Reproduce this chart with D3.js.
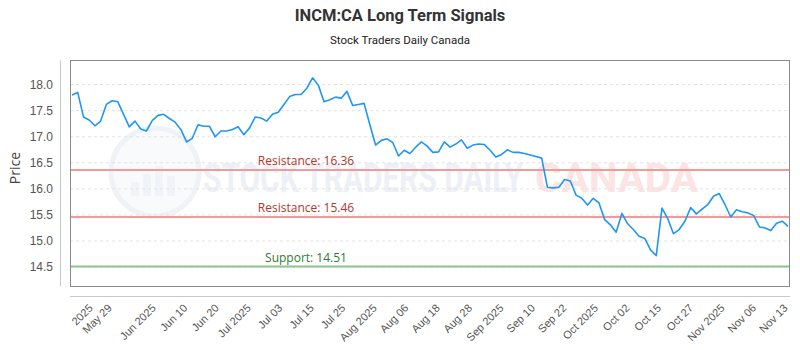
<!DOCTYPE html>
<html>
<head>
<meta charset="utf-8">
<script src="https://cdn.jsdelivr.net/npm/d3@7"></script>
<style>
  body { margin: 0; background: #fff; }
  svg { display: block; font-family: "Open Sans", sans-serif; }
</style>
</head>
<body>
<svg id="chart" width="800" height="350"></svg>
<script>
// daily closes, oldest first
const prices = [
  17.80, 17.85, 17.38, 17.32, 17.21, 17.30, 17.62, 17.69, 17.67, 17.43,
  17.19, 17.30, 17.15, 17.11, 17.31, 17.41, 17.43, 17.35, 17.28, 17.14,
  16.90, 16.97, 17.23, 17.20, 17.20, 17.00, 17.11, 17.11, 17.14, 17.19,
  17.04, 17.17, 17.38, 17.36, 17.30, 17.43, 17.47, 17.62, 17.77, 17.81,
  17.81, 17.93, 18.13, 17.99, 17.67, 17.71, 17.76, 17.74, 17.87, 17.60,
  17.62, 17.64, 17.23, 16.84, 16.93, 16.96, 16.89, 16.63, 16.74, 16.68,
  16.80, 16.90, 16.82, 16.70, 16.71, 16.90, 16.80, 16.86, 16.94, 16.78,
  16.84, 16.86, 16.85, 16.74, 16.61, 16.66, 16.75, 16.70, 16.70, 16.68,
  16.65, 16.62, 16.59, 16.03, 16.02, 16.03, 16.18, 16.15, 15.88, 15.82,
  15.69, 15.82, 15.73, 15.41, 15.31, 15.17, 15.53, 15.33, 15.22, 15.09,
  15.05, 14.83, 14.72, 15.63, 15.43, 15.14, 15.22, 15.38, 15.64, 15.52,
  15.61, 15.70, 15.86, 15.91, 15.70, 15.46, 15.60, 15.56, 15.54, 15.49,
  15.27, 15.25, 15.20, 15.34, 15.38, 15.28
];

const tickLabels = ["2025", "May 29", "Jun 2025", "Jun 10", "Jun 20", "Jul 2025",
  "Jul 03", "Jul 15", "Jul 25", "Aug 2025", "Aug 06", "Aug 18", "Aug 28",
  "Sep 2025", "Sep 10", "Sep 22", "Oct 2025", "Oct 02", "Oct 15", "Oct 27",
  "Nov 2025", "Nov 06", "Nov 13"];
// which day (index into prices) each label sits on
const tickAt = [3.2, 6.5, 14.2, 19.7, 25.2, 30.8, 36.3, 41.8, 47.3, 52.8, 58.3,
  63.8, 69.4, 74.9, 80.4, 85.9, 91.4, 96.9, 102.4, 108.0, 113.5, 119.0, 124.5];

const yTicks = [14.5, 15.0, 15.5, 16.0, 16.5, 17.0, 17.5, 18.0];

const levelNames = ["Resistance", "Resistance", "Support"];
const levelValues = [16.36, 15.46, 14.51];

const width = 800, height = 350;
const plot = { left: 70, right: 790, top: 60, bottom: 286 };

const svg = d3.select("#chart");

const x = d3.scaleLinear()
  .domain([0, prices.length - 1])
  .range([72, 788]);
const y = d3.scaleLinear()
  .domain([14.137, 18.472])
  .range([plot.bottom, plot.top]);

// title
svg.append("text")
  .attr("x", width / 2).attr("y", 21)
  .attr("text-anchor", "middle")
  .style("font-family", "Roboto, sans-serif")
  .style("font-weight", 700).style("font-size", "16.5px")
  .attr("fill", "#333")
  .text("INCM:CA Long Term Signals");
svg.append("text")
  .attr("x", width / 2).attr("y", 44)
  .attr("text-anchor", "middle")
  .style("font-family", "Roboto, sans-serif")
  .style("font-size", "11.5px")
  .attr("fill", "#222")
  .text("Stock Traders Daily Canada");

// watermark
let wm = svg.append("g").attr("opacity", 0.45)
wm.append("circle")
  .attr("cx", 155).attr("cy", 172).attr("r", 44)
  .attr("fill", "#f2f5fa").attr("stroke", "#dde5f0").attr("stroke-width", 5)
wm.selectAll("rect.wmbar")
  .data([14, 22, 30, 20])
  .enter().append("rect")
  .attr("x", (d, i) => 131 + i * 12).attr("y", d => 196 - d)
  .attr("width", 8).attr("height", d => d)
  .attr("fill", "#dfe6f0")
wm.append("text")
  .attr("x", 203).attr("y", 192)
  .attr("textLength", 320).attr("lengthAdjust", "spacingAndGlyphs")
  .style("font-family", "Roboto, sans-serif").style("font-weight", 700)
  .style("font-size", "40px")
  .attr("fill", "#d8e0ec")
  .text("STOCK TRADERS DAILY");
wm.append("text")
  .attr("x", 535).attr("y", 192)
  .attr("textLength", 163).attr("lengthAdjust", "spacingAndGlyphs")
  .style("font-family", "Roboto, sans-serif").style("font-weight", 700)
  .style("font-size", "40px")
  .attr("fill", "#f9c4c4")
  .text("CANADA");

// grid
svg.append("g")
  .selectAll("line")
  .data(yTicks).enter()
  .append("line")
  .attr("x1", plot.left).attr("x2", plot.right)
  .attr("y1", d => y(d)).attr("y2", d => y(d))
  .attr("stroke", "#e2e2e2")
  .attr("stroke-dasharray", "3,3");

// y axis
let yAxis = svg.append("g")
  .attr("transform", "translate(60,0)")
  .call(d3.axisLeft(y).tickValues(yTicks).tickFormat(d3.format(".1f"))
    .tickSize(0).tickPadding(7));
yAxis.select(".domain").attr("stroke", "#c8c8c8");
yAxis.selectAll("text")
  .style("font-size", "12px").attr("fill", "#555");

svg.append("text")
  .attr("transform", "translate(20,168) rotate(-90)")
  .attr("text-anchor", "middle")
  .style("font-size", "14px").attr("fill", "#444")
  .text("Price");

// x axis
svg.append("line")
  .attr("x1", plot.left).attr("x2", plot.right)
  .attr("y1", 296.5).attr("y2", 296.5)
  .attr("stroke", "#c8c8c8");
let xAxis = svg.append("g")
  .attr("transform", "translate(0,296)")
  .call(d3.axisBottom(x).tickValues(tickAt)
    .tickFormat((d, i) => tickLabels[i]).tickSize(0));
xAxis.select(".domain").remove();
xAxis.selectAll("text")
  .attr("x", 0).attr("y", 0).attr("dy", "0.35em")
  .attr("text-anchor", "end")
  .attr("transform", "translate(0,10) rotate(-45)")
  .style("font-size", "11px").attr("fill", "#555");

// support / resistance
levelValues.forEach((v, i) => {
  let res = levelNames[i] == "Resistance";
  svg.append("line")
    .attr("x1", plot.left).attr("x2", plot.right)
    .attr("y1", y(v)).attr("y2", y(v))
    .attr("stroke", res ? "#f19a9a" : "#8cc58b")
    .attr("stroke-width", 2);
  svg.append("text")
    .attr("x", 306).attr("y", y(v) - 5)
    .attr("text-anchor", "middle")
    .style("font-size", "12px")
    .attr("fill", res ? "#b3362b" : "#2f7a33")
    .text(levelNames[i] + ": " + v.toFixed(2));
});

// price line
let line_gen = d3.line()
  .x((d, i) => x(i))
  .y(d => y(d));
svg.append("path")
  .datum(prices)
  .attr("d", line_gen)
  .attr("fill", "none")
  .attr("stroke", "#2196f3")
  .attr("stroke-width", 1.6)
  .attr("stroke-linejoin", "round");

// plot frame
svg.append("rect")
  .attr("x", plot.left + 0.5).attr("y", plot.top + 0.5)
  .attr("width", plot.right - plot.left - 1).attr("height", plot.bottom - plot.top)
  .attr("fill", "none")
  .attr("stroke", "#8a8a8a");
</script>
</body>
</html>
